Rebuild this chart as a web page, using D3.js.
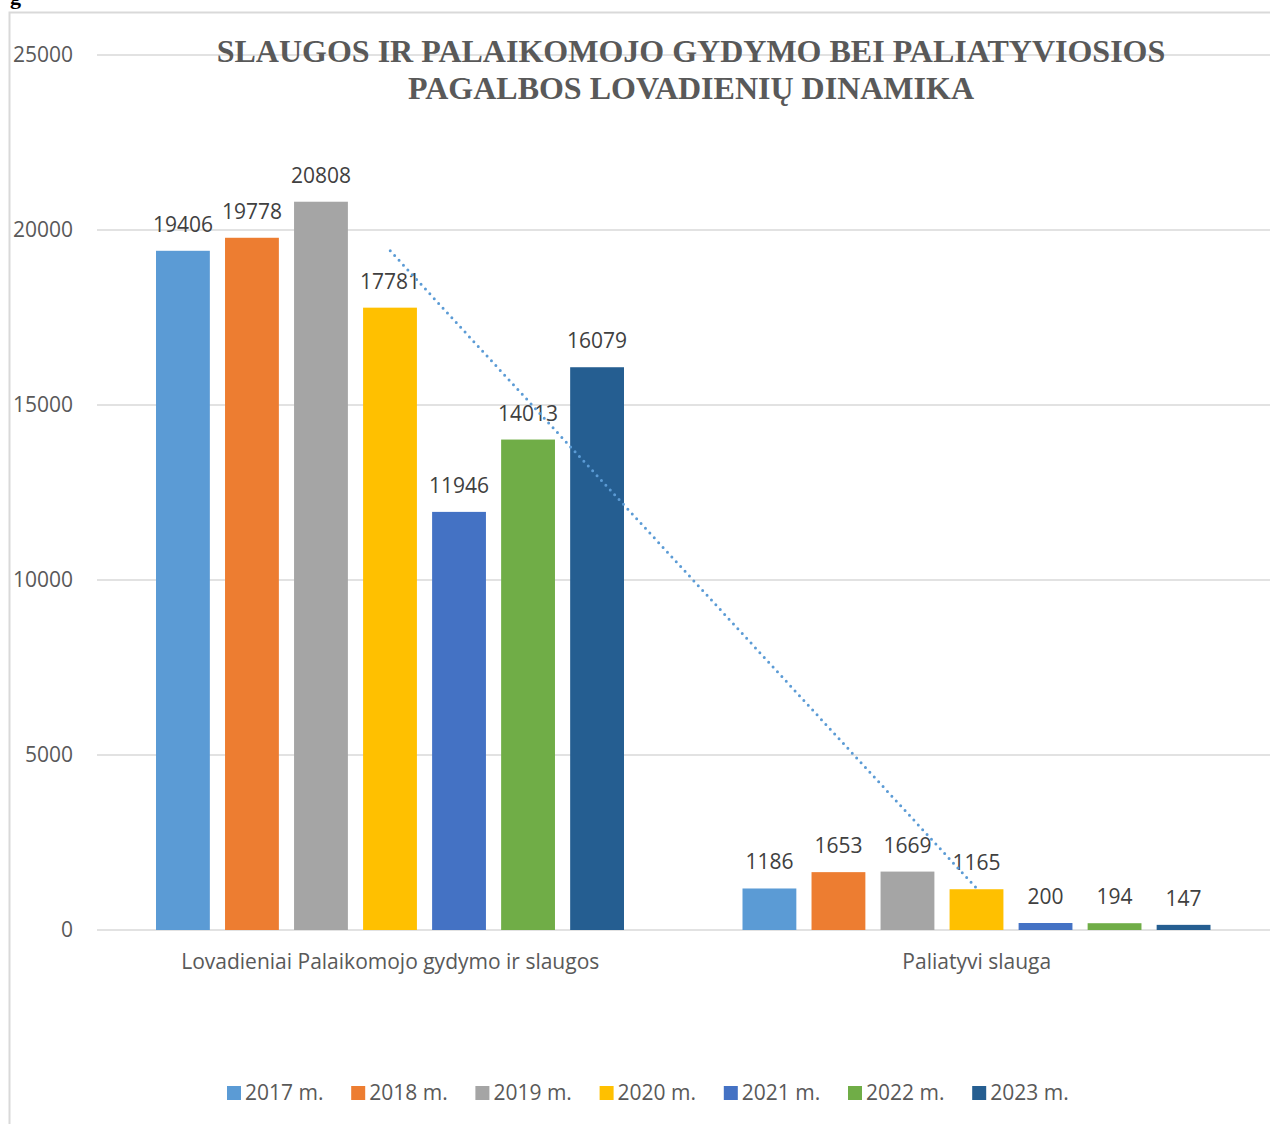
<!DOCTYPE html>
<html>
<head>
<meta charset="utf-8">
<script src="https://cdn.jsdelivr.net/npm/d3@7"></script>
<style>
  body { margin: 0; background: #fff; }
  svg text { font-family: "Open Sans", "Noto Sans", sans-serif; }
</style>
</head>
<body>
<div id="chart"></div>
<script>
var categories = ["Lovadieniai Palaikomojo gydymo ir slaugos", "Paliatyvi slauga"];
var years = ["2017 m.", "2018 m.", "2019 m.", "2020 m.", "2021 m.", "2022 m.", "2023 m."];
var values2017 = [19406, 1186];
var values2018 = [19778, 1653];
var values2019 = [20808, 1669];
var values2020 = [17781, 1165];
var values2021 = [11946, 200];
var values2022 = [14013, 194];
var values2023 = [16079, 147];
var yTicks = [0, 5000, 10000, 15000, 20000, 25000];
var colors = ["#5b9bd5", "#ed7d31", "#a5a5a5", "#ffc000", "#4472c4", "#70ad47", "#255e91"];

var series = [values2017, values2018, values2019, values2020, values2021, values2022, values2023];

var W = 1270, H = 1124;
var margin = {top: 55, right: 0, bottom: 194, left: 97},
    width = W - margin.left - margin.right,
    height = H - margin.top - margin.bottom;

var svg = d3.select("#chart").append("svg")
    .attr("width", W)
    .attr("height", H);

// chart frame
svg.append("rect")
    .attr("x", 9.5).attr("y", 12.5)
    .attr("width", W + 10).attr("height", H + 10)
    .attr("fill", "none")
    .attr("stroke", "#d9d9d9")
    .attr("stroke-width", 2);

// clipped heading fragment above the frame
svg.append("text")
    .attr("x", 10).attr("y", 4)
    .style("font-family", "'Liberation Serif', serif")
    .style("font-weight", "bold")
    .style("font-size", "22px")
    .attr("fill", "#000")
    .text("g");

var g = svg.append("g")
    .attr("transform", "translate(" + margin.left + "," + margin.top + ")");

var x0 = d3.scaleBand().domain(categories).range([0, width]);
var x1 = d3.scaleBand().domain(years).range([59, 527]).paddingInner(0.22);
var y = d3.scaleLinear().domain([0, 25000]).range([height, 0]);

// gridlines
g.selectAll(".grid")
    .data(yTicks)
  .enter().append("line")
    .attr("x1", 0).attr("x2", width)
    .attr("y1", function(d) { return y(d); })
    .attr("y2", function(d) { return y(d); })
    .attr("stroke", "#d9d9d9")
    .attr("stroke-width", 1.5);

// y axis labels
var yAxis = g.append("g")
    .call(d3.axisLeft(y).tickValues(yTicks).tickSize(0).tickPadding(24).tickFormat(d3.format("d")));
yAxis.select(".domain").remove();
yAxis.selectAll("text")
    .style("font-size", "21px")
    .style("font-family", "'Open Sans', sans-serif")
    .attr("fill", "#595959");

// bars
var groups = g.selectAll(".cat")
    .data(categories)
  .enter().append("g")
    .attr("transform", function(d) { return "translate(" + x0(d) + ",0)"; });

groups.selectAll("rect")
    .data(function(c, ci) { return years.map(function(yr, i) { return {year: yr, i: i, v: series[i][ci]}; }); })
  .enter().append("rect")
    .attr("x", function(d) { return x1(d.year); })
    .attr("width", x1.bandwidth())
    .attr("y", function(d) { return y(d.v); })
    .attr("height", function(d) { return height - y(d.v); })
    .attr("fill", function(d) { return colors[d.i]; });

// trendline for 2017 m. series
var trend = categories.map(function(c, i) { return [x0(c) + x0.bandwidth() / 2, y(values2017[i])]; });
g.append("path")
    .attr("d", d3.line()(trend))
    .attr("fill", "none")
    .attr("stroke", "#5b9bd5")
    .attr("stroke-width", 3)
    .attr("stroke-linecap", "round")
    .attr("stroke-dasharray", "0 6.5");

// value labels
groups.selectAll(".lbl")
    .data(function(c, ci) { return years.map(function(yr, i) { return {year: yr, i: i, v: series[i][ci]}; }); })
  .enter().append("text")
    .attr("x", function(d) { return x1(d.year) + x1.bandwidth() / 2; })
    .attr("y", function(d) { return y(d.v) - 19; })
    .attr("text-anchor", "middle")
    .style("font-size", "21px")
    .attr("fill", "#404040")
    .text(function(d) { return d.v; });

// category labels
g.selectAll(".catlbl")
    .data(categories)
  .enter().append("text")
    .attr("x", function(d) { return x0(d) + x0.bandwidth() / 2; })
    .attr("y", height + 39)
    .attr("text-anchor", "middle")
    .style("font-size", "21px")
    .attr("fill", "#595959")
    .text(function(d) { return d; });

// title
var title = svg.append("text")
    .attr("text-anchor", "middle")
    .style("font-family", "'Liberation Serif', 'Times New Roman', serif")
    .style("font-weight", "bold")
    .style("font-size", "32px")
    .attr("fill", "#595959");
title.append("tspan").attr("x", 691).attr("y", 62)
    .text("SLAUGOS IR PALAIKOMOJO GYDYMO BEI PALIATYVIOSIOS");
title.append("tspan").attr("x", 691).attr("y", 99)
    .text("PAGALBOS LOVADIENIŲ DINAMIKA");

// legend
var legend = svg.selectAll(".legend")
    .data(years)
  .enter().append("g")
    .attr("transform", function(d, i) { return "translate(" + (227 + i * 124.2) + ",1086)"; });

legend.append("rect")
    .attr("width", 14).attr("height", 14)
    .attr("fill", function(d, i) { return colors[i]; });

legend.append("text")
    .attr("x", 18).attr("y", 14)
    .style("font-size", "21px")
    .attr("fill", "#595959")
    .text(function(d) { return d; });
</script>
</body>
</html>
